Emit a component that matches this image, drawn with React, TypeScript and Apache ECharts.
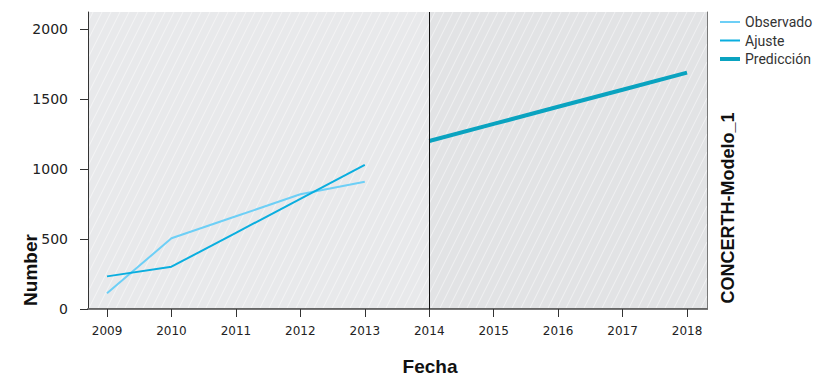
import React, { useEffect, useRef } from "react";
import * as echarts from "echarts";

const years = [2009, 2010, 2011, 2012, 2013, 2014, 2015, 2016, 2017, 2018];
const yTicks = [0, 500, 1000, 1500, 2000];
const obsYears = [2009, 2010, 2011, 2012, 2013];
const observado = [112, 505, 662, 819, 909];
const ajuste = [233, 302, 544, 787, 1029];
const predYears = [2014, 2015, 2016, 2017, 2018];
const prediccion = [1200, 1322, 1444, 1566, 1688];
const forecastStart = 2014;
const xMin = 2008.705;
const xMax = 2018.31;
const yMax = 2121;

const pairs = (xs: number[], ys: number[]) => xs.map((x, i) => [x, ys[i]]);

export default function App() {
  const ref = useRef<HTMLDivElement>(null);
  useEffect(() => {
    if (!ref.current) return;
    const chart = echarts.init(ref.current, undefined, { renderer: "svg" });
    const tickFont = "DejaVu Sans";
    const renderBg = (params: any, api: any) => {
      const cs = params.coordSys;
      const split = api.coord([forecastStart, 0])[0];
      const idx = params.dataIndex;
      const L = idx === 0 ? cs.x : split;
      const R = idx === 0 ? split : cs.x + cs.width;
      const T = cs.y;
      const B = cs.y + cs.height;
      const children: any[] = [
        {
          type: "rect",
          shape: { x: L, y: T, width: R - L, height: B - T },
          style: { fill: idx === 0 ? "#e8e9eb" : "#e2e3e5" },
        },
      ];
      const step = 9;
      const uMin = L + T / 2;
      const uMax = R + B / 2;
      const start = Math.ceil(uMin / step) * step;
      for (let c = start; c <= uMax; c += step) {
        const y1 = Math.max(T, 2 * (c - R));
        const y2 = Math.min(B, 2 * (c - L));
        if (y1 < y2) {
          children.push({
            type: "line",
            shape: { x1: c - y1 / 2, y1, x2: c - y2 / 2, y2 },
            style: { stroke: "rgba(255,255,255,0.5)", lineWidth: 1 },
          });
        }
      }
      return { type: "group", children };
    };
    chart.setOption({
      animation: false,
      grid: { left: 88, top: 12, width: 619, height: 297 },
      legend: {
        orient: "vertical",
        left: 718,
        top: 15,
        padding: 0,
        itemWidth: 20,
        itemHeight: 14,
        itemGap: 4.5,
        itemStyle: { opacity: 0 },
        data: [
          { name: "Observado", lineStyle: { width: 2 } },
          { name: "Ajuste", lineStyle: { width: 2 } },
          { name: "Predicción", lineStyle: { width: 4 } },
        ],
        textStyle: { fontFamily: "Roboto", fontSize: 14, color: "#333" },
      },
      xAxis: [
        {
          type: "value",
          min: xMin,
          max: xMax,
          splitLine: { show: false },
          axisLine: { show: true, lineStyle: { color: "#666", width: 2 } },
          axisTick: { show: true, customValues: years, length: 8, lineStyle: { color: "#333" } },
          axisLabel: {
            customValues: years,
            margin: 16,
            fontFamily: tickFont,
            fontSize: 12,
            color: "#222",
            formatter: (v: number) => String(v),
          },
        },
        {
          type: "value",
          position: "top",
          min: xMin,
          max: xMax,
          splitLine: { show: false },
          axisLine: { show: true, lineStyle: { color: "#777", width: 1 } },
          axisTick: { show: false },
          axisLabel: { show: false },
        },
      ],
      yAxis: [
        {
          type: "value",
          min: 0,
          max: yMax,
          splitLine: { show: false },
          axisLine: { show: true, lineStyle: { color: "#333", width: 1 } },
          axisTick: { show: true, customValues: yTicks, length: 8, lineStyle: { color: "#333" } },
          axisLabel: {
            customValues: yTicks,
            margin: 20,
            fontFamily: tickFont,
            fontSize: 14,
            color: "#222",
            formatter: (v: number) => String(v),
          },
        },
        {
          type: "value",
          position: "right",
          min: 0,
          max: yMax,
          splitLine: { show: false },
          axisLine: { show: true, lineStyle: { color: "#777", width: 1 } },
          axisTick: { show: false },
          axisLabel: { show: false },
        },
      ],
      series: [
        {
          name: "bg",
          type: "custom",
          silent: true,
          z: 0,
          renderItem: renderBg,
          data: [
            [forecastStart, 0],
            [forecastStart, 0],
          ],
        },
        {
          name: "Observado",
          type: "line",
          z: 3,
          showSymbol: false,
          symbol: "none",
          color: "#6dcff6",
          lineStyle: { color: "#6dcff6", width: 2 },
          data: pairs(obsYears, observado),
        },
        {
          name: "Ajuste",
          type: "line",
          z: 3,
          showSymbol: false,
          symbol: "none",
          color: "#0aaedf",
          lineStyle: { color: "#0aaedf", width: 2 },
          data: pairs(obsYears, ajuste),
        },
        {
          name: "Predicción",
          type: "line",
          z: 4,
          showSymbol: false,
          symbol: "none",
          color: "#0aa3c0",
          lineStyle: { color: "#0aa3c0", width: 4 },
          data: pairs(predYears, prediccion),
          markLine: {
            silent: true,
            symbol: "none",
            label: { show: false },
            lineStyle: { color: "#111", width: 1, type: "solid" },
            data: [{ xAxis: forecastStart }],
          },
        },
      ],
      graphic: [
        {
          type: "text",
          x: 30,
          y: 270,
          rotation: Math.PI / 2,
          style: {
            text: "Number",
            fontFamily: "Liberation Sans",
            fontWeight: "bold",
            fontSize: 19,
            fill: "#111",
            align: "center",
            verticalAlign: "middle",
          },
        },
        {
          type: "text",
          x: 430,
          y: 366,
          style: {
            text: "Fecha",
            fontFamily: "Liberation Sans",
            fontWeight: "bold",
            fontSize: 19,
            fill: "#111",
            align: "center",
            verticalAlign: "middle",
          },
        },
        {
          type: "text",
          x: 728,
          y: 208,
          rotation: Math.PI / 2,
          style: {
            text: "CONCERTH-Modelo_1",
            fontFamily: "Liberation Sans",
            fontWeight: "bold",
            fontSize: 18,
            fill: "#111",
            align: "center",
            verticalAlign: "middle",
          },
        },
      ],
    });
    return () => chart.dispose();
  }, []);
  return (
    <div
      ref={ref}
      style={{ position: "fixed", left: 0, top: 0, width: 814, height: 376, background: "#fff" }}
    />
  );
}
